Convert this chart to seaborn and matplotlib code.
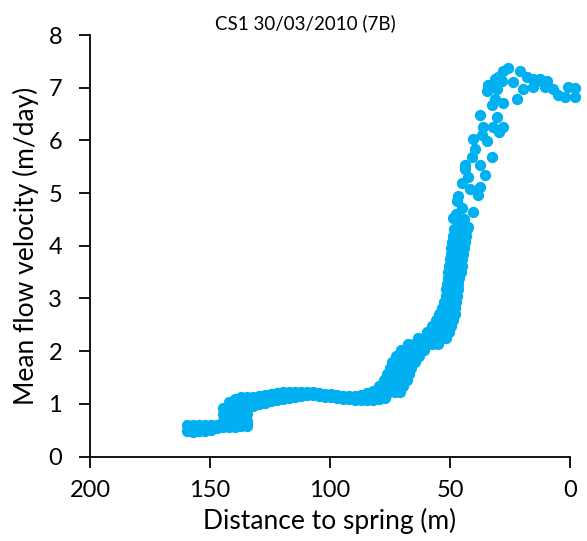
import matplotlib
matplotlib.use("Agg")
import matplotlib.pyplot as plt
import pandas as pd
import seaborn as sns

# ---- measured profile: mean flow velocity (m/day) vs distance to spring (m) ----

# upstream low-velocity stretch: distances with the two velocity readings at each
low_dist = [159.6, 157.1, 154.6, 152.1, 149.6, 147.1, 144.6, 142.1, 139.6, 137.1, 134.6]
low_vel_a = [0.48, 0.47, 0.48, 0.49, 0.51, 0.54, 0.56, 0.56, 0.56, 0.57, 0.57]
low_vel_b = [0.60, 0.60, 0.59, 0.59, 0.59, 0.60, 0.62, 0.62, 0.62, 0.63, 0.63]

# step up near 140 m: velocities recorded at each distance
step_dist = [144.6, 142.1, 139.6, 137.1, 134.6]
step_vel = [
    [0.68, 0.80, 0.92],
    [0.68, 0.80, 0.92, 1.04],
    [0.68, 0.80, 0.92, 1.04, 1.10],
    [0.68, 0.80, 0.92, 1.04, 1.12],
    [0.68, 0.80, 0.92, 1.04, 1.13],
]

# middle reach: upper and lower readings (plus a middle one where the spread is wide)
mid_dist = [132.1, 129.6, 127.1, 124.6, 122.1, 119.6, 117.1, 114.6, 112.1, 109.6, 107.1,
            104.6, 102.1, 99.6, 97.1, 94.6, 92.1, 89.6, 87.1, 84.6, 82.1, 79.6]
mid_vel_top = [1.13, 1.15, 1.17, 1.19, 1.21, 1.23, 1.23, 1.23, 1.23, 1.23, 1.23,
               1.21, 1.19, 1.19, 1.17, 1.15, 1.15, 1.15, 1.17, 1.21, 1.25, 1.34]
mid_vel_bot = [0.96, 1.00, 1.02, 1.05, 1.07, 1.09, 1.11, 1.13, 1.15, 1.17, 1.16,
               1.15, 1.13, 1.12, 1.11, 1.10, 1.09, 1.08, 1.07, 1.07, 1.08, 1.09]
mid_vel_centre = [1.05, 1.07, 1.10, 1.12, 1.14, 1.16]

# acceleration towards the spring: distances recorded at each velocity level
rise_vel = [1.11, 1.23, 1.34, 1.45, 1.57, 1.68, 1.80, 1.91, 2.03, 2.14, 2.25, 2.37, 2.48,
            2.60, 2.71, 2.82, 2.94, 3.05, 3.17, 3.28, 3.39, 3.51, 3.62, 3.74, 3.85,
            3.96, 4.08, 4.19, 4.31]
rise_dist = [
    [77.1],
    [77.9, 75.4, 72.9, 70.8],
    [77.1, 74.6, 72.1, 69.6],
    [77.5, 75.0, 72.5, 70.0, 67.9],
    [76.2, 73.8, 71.2, 68.8, 67.1],
    [75.0, 72.5, 70.0, 67.5, 66.2],
    [74.2, 71.7, 69.2, 66.7, 64.6],
    [72.5, 70.0, 67.5, 65.0, 62.9],
    [70.4, 67.9, 65.4, 62.9, 60.8],
    [67.5, 65.0, 62.5, 60.0, 57.5, 55.0],
    [63.3, 60.8, 58.3, 55.8, 53.8, 51.7],
    [59.6, 57.1, 54.6, 52.5, 50.4],
    [57.5, 55.0, 52.5, 49.6],
    [55.8, 53.3, 50.8, 48.8],
    [54.6, 52.1, 50.0, 47.9],
    [53.3, 50.8, 47.9],
    [52.5, 50.0, 47.5],
    [51.7, 49.6, 47.1],
    [51.7, 49.2, 46.7],
    [51.2, 48.8, 46.7],
    [50.8, 48.3, 46.2],
    [50.8, 48.3, 45.4],
    [50.4, 47.9, 45.0],
    [50.0, 47.5, 45.0],
    [49.6, 47.1, 44.6],
    [49.6, 47.1, 44.2],
    [49.2, 46.7, 43.8],
    [48.8, 45.8, 43.3],
    [48.3, 45.8, 42.9],
]

# scattered readings of the fast reach near the spring
top_dist = [25.8, 27.9, 30.0, 31.3, 34.2, 34.6, 30.4, 28.3, 20.8, 23.8, 17.9, 19.6,
            22.1, 31.3, 32.5, 27.9, 37.5, 30.4, 32.1, 27.9, 29.6, 36.3, 36.7, 40.4,
            34.6, 39.6, 32.5, 40.8, 43.8, 37.5, 43.8, 35.4, 42.5, 45.0, 37.5, 41.7,
            38.3, 47.1, 45.0, 40.4, 48.8, 45.8, 42.5, 47.5, 44.2, 46.7,
            15.4, 12.5, 9.6, 7.1, 5.0, 2.1, 0.8, -2.1, -2.1, 15.4, 13.8, 11.3, 10.4]
top_vel = [7.37, 7.31, 7.21, 7.16, 7.06, 6.93, 6.97, 7.12, 7.31, 7.10, 7.20, 6.97,
           6.78, 6.78, 6.68, 6.70, 6.49, 6.45, 6.26, 6.26, 6.15, 6.26, 6.11, 6.02,
           5.98, 5.83, 5.69, 5.68, 5.54, 5.54, 5.45, 5.35, 5.31, 5.20, 5.12, 5.07,
           4.97, 4.84, 4.72, 4.65, 4.53, 4.44, 4.36, 4.60, 4.50, 4.95,
           7.16, 7.16, 7.12, 6.97, 6.87, 6.83, 7.02, 7.00, 6.83, 7.01, 7.12, 7.10, 7.01]

x_ticks = [200, 150, 100, 50, 0]
y_ticks = [0, 1, 2, 3, 4, 5, 6, 7, 8]

# ---- assemble one long table of (distance, velocity) readings ----
dist, vel = [], []
for d, a, b in zip(low_dist, low_vel_a, low_vel_b):
    dist += [d, d]
    vel += [a, b]
for d, vs in zip(step_dist, step_vel):
    dist += [d] * len(vs)
    vel += vs
for d, t, b in zip(mid_dist, mid_vel_top, mid_vel_bot):
    dist += [d, d]
    vel += [t, b]
for d, c in zip(mid_dist, mid_vel_centre):
    dist.append(d)
    vel.append(c)
for v, ds in zip(rise_vel, rise_dist):
    dist += ds
    vel += [v] * len(ds)
dist += top_dist
vel += top_vel

df = pd.DataFrame({"Distance to spring (m)": dist, "Mean flow velocity (m/day)": vel})

# ---- plot ----
sns.set_theme(style="ticks")
plt.rcParams["font.family"] = ["Lato", "DejaVu Sans"]
plt.rcParams["text.color"] = "black"
plt.rcParams["axes.labelcolor"] = "black"

fig = plt.figure(figsize=(5.87, 5.41), dpi=100)
ax = fig.add_axes([90 / 587, 1 - 456.5 / 541, 480 / 587, 421.5 / 541])

sns.scatterplot(
    data=df, x="Distance to spring (m)", y="Mean flow velocity (m/day)",
    ax=ax, color="#00B0F0", s=66, linewidth=0, legend=False, clip_on=False,
)

ax.set_xlim(200, 0)
ax.set_ylim(0, 8)
ax.set_xticks(x_ticks)
ax.set_yticks(y_ticks)

for side in ("top", "right"):
    ax.spines[side].set_visible(False)
for side in ("left", "bottom"):
    ax.spines[side].set_color("black")
    ax.spines[side].set_linewidth(1.3)

ax.tick_params(axis="both", direction="out", length=8, width=1.3, color="black",
               labelcolor="black", labelsize=17)
ax.tick_params(axis="y", pad=12)
ax.tick_params(axis="x", pad=9)

ax.set_xlabel("Distance to spring (m)", fontsize=19, labelpad=5)
ax.set_ylabel("Mean flow velocity (m/day)", fontsize=19, labelpad=7)

fig.text(305 / 587, 1 - 23 / 541, "CS1 30/03/2010 (7B)", ha="center", va="center",
         fontsize=13.5)

fig.savefig("out.png", dpi=100)
